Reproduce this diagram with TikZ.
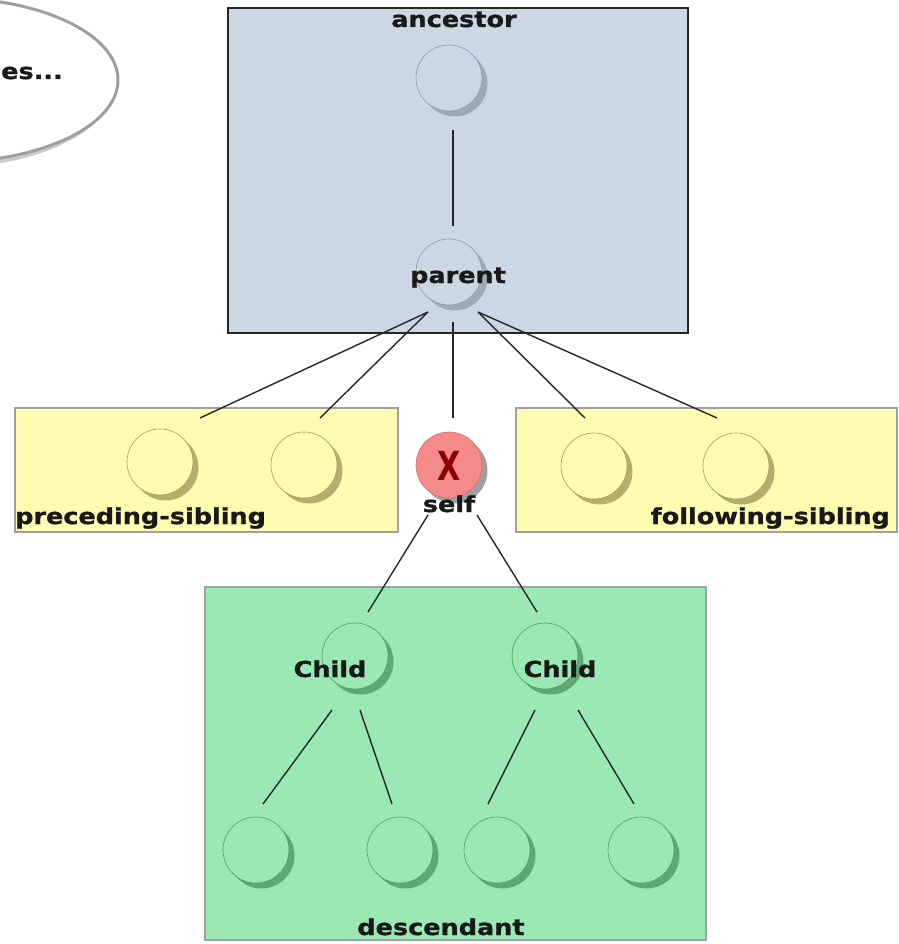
\documentclass[tikz,border=0pt]{standalone}
\usepackage{fontspec}
\newfontfamily\lbl[FakeStretch=1.16, FakeBold=1.2]{DejaVu Sans Bold}
\newfontfamily\xfont{DejaVu Sans Bold}
\usetikzlibrary{shadows}
\definecolor{ancfill}{HTML}{CBD7E5}
\definecolor{ancshadow}{HTML}{9DA9B7}
\definecolor{ancline}{HTML}{8A99A9}
\definecolor{yelfill}{HTML}{FFFCB2}
\definecolor{yelshadow}{HTML}{B4AE6C}
\definecolor{yelline}{HTML}{A29C55}
\definecolor{grnfill}{HTML}{9AE9B4}
\definecolor{grnshadow}{HTML}{5FA776}
\definecolor{grnline}{HTML}{4F9C69}
\definecolor{selffill}{HTML}{F58A8A}
\definecolor{selfline}{HTML}{D86C6C}
\definecolor{xcol}{HTML}{8B0000}
\definecolor{boxgray}{HTML}{A0A0A0}
\begin{document}
\begin{tikzpicture}[x=1pt,y=-1pt,
  lbltext/.style={font=\lbl\fontsize{22}{26}\selectfont, inner sep=0pt, text=black!90},
  region/.style={draw=boxgray, line width=1.3pt, inner sep=0pt},
  knot/.style={circle, minimum size=66pt, inner sep=0pt, line width=0.6pt},
  ancknot/.style={knot, fill=ancfill, draw=ancline, drop shadow={fill=ancshadow, opacity=1, shadow xshift=5.5pt, shadow yshift=-5.5pt}},
  yelknot/.style={knot, fill=yelfill, draw=yelline, drop shadow={fill=yelshadow, opacity=1, shadow xshift=5.5pt, shadow yshift=-5.5pt}},
  grnknot/.style={knot, fill=grnfill, draw=grnline, drop shadow={fill=grnshadow, opacity=1, shadow xshift=5.5pt, shadow yshift=-5.5pt}},
  link/.style={line width=1.4pt, draw=black!85}
]
\useasboundingbox (0,0) rectangle (898,944);

% cut-off ellipse at the top left
\begin{scope}
\clip (0,0) rectangle (898,944);
\fill[gray!40] (-57,86) ellipse [x radius=170, y radius=82];
\draw[fill=white, draw=gray!75, line width=3pt] (-52,80) ellipse [x radius=170, y radius=82];
\end{scope}
\node[lbltext, anchor=base west] (etc) at (1,79) {es...};

% region boxes
\node[region, draw=black!85, fill=ancfill, minimum width=460pt, minimum height=325pt] (ancbox) at (458,170.5) {};
\node[region, fill=yelfill, minimum width=383pt, minimum height=124pt] (precbox) at (206.5,470) {};
\node[region, fill=yelfill, minimum width=381pt, minimum height=124pt] (follbox) at (706.5,470) {};
\node[region, fill=grnfill, minimum width=501pt, minimum height=353pt] (descbox) at (455.5,763.5) {};

% circles
\node[ancknot] (anc) at (449,78) {};
\node[ancknot] (par) at (449,272) {};
\node[yelknot] (ps1) at (160,462) {};
\node[yelknot] (ps2) at (304,465) {};
\node[yelknot] (fs1) at (594,466) {};
\node[yelknot] (fs2) at (736,466) {};
\node[knot, fill=selffill, draw=selfline, drop shadow={fill=black!38, opacity=1, shadow xshift=5.5pt, shadow yshift=-5.5pt}] (self) at (449,465) {};
\node[grnknot] (c1) at (355,656) {};
\node[grnknot] (c2) at (545,656) {};
\node[grnknot] (g1) at (256,850) {};
\node[grnknot] (g2) at (400,850) {};
\node[grnknot] (g3) at (497,850) {};
\node[grnknot] (g4) at (641,850) {};

% connector end points
\coordinate (ancB) at (453,130);
\coordinate (parT) at (453,226);
\coordinate (parBL) at (428,312);
\coordinate (parB) at (453,322);
\coordinate (parBR) at (478,312);
\coordinate (ps1T) at (200,418);
\coordinate (ps2T) at (320,418);
\coordinate (selfT) at (453,418);
\coordinate (fs1T) at (585,418);
\coordinate (fs2T) at (717,418);
\coordinate (selfBL) at (428,515);
\coordinate (selfBR) at (477,515);
\coordinate (c1T) at (368,612);
\coordinate (c2T) at (537,612);
\coordinate (c1BL) at (332,710);
\coordinate (c1BR) at (360,710);
\coordinate (c2BL) at (535,710);
\coordinate (c2BR) at (578,710);
\coordinate (g1T) at (263,804);
\coordinate (g2T) at (392,804);
\coordinate (g3T) at (488,804);
\coordinate (g4T) at (634,804);

% connectors
\draw[link] (ancB) -- (parT);
\draw[link] (parBL) -- (ps1T);
\draw[link] (parBL) -- (ps2T);
\draw[link] (parB) -- (selfT);
\draw[link] (parBR) -- (fs1T);
\draw[link] (parBR) -- (fs2T);
\draw[link] (selfBL) -- (c1T);
\draw[link] (selfBR) -- (c2T);
\draw[link] (c1BL) -- (g1T);
\draw[link] (c1BR) -- (g2T);
\draw[link] (c2BL) -- (g3T);
\draw[link] (c2BR) -- (g4T);

% labels
\node[inner sep=0pt, text=xcol, font=\xfont\fontsize{40}{44}\selectfont] (xmark) at (449,466) {\scalebox{0.75}[1]{X}};
\node[lbltext, anchor=base] (ancl) at (454,27) {ancestor};
\node[lbltext, anchor=base] (parl) at (458,283) {parent};
\node[lbltext, anchor=base west] (precl) at (15,524) {preceding-sibling};
\node[lbltext, anchor=base east] (folll) at (890,524) {following-sibling};
\node[lbltext, anchor=base] (selfl) at (449,512) {self};
\node[lbltext, anchor=base] (c1l) at (330,677) {Child};
\node[lbltext, anchor=base] (c2l) at (560,677) {Child};
\node[lbltext, anchor=base] (descl) at (441,935) {descendant};
\end{tikzpicture}
\end{document}
